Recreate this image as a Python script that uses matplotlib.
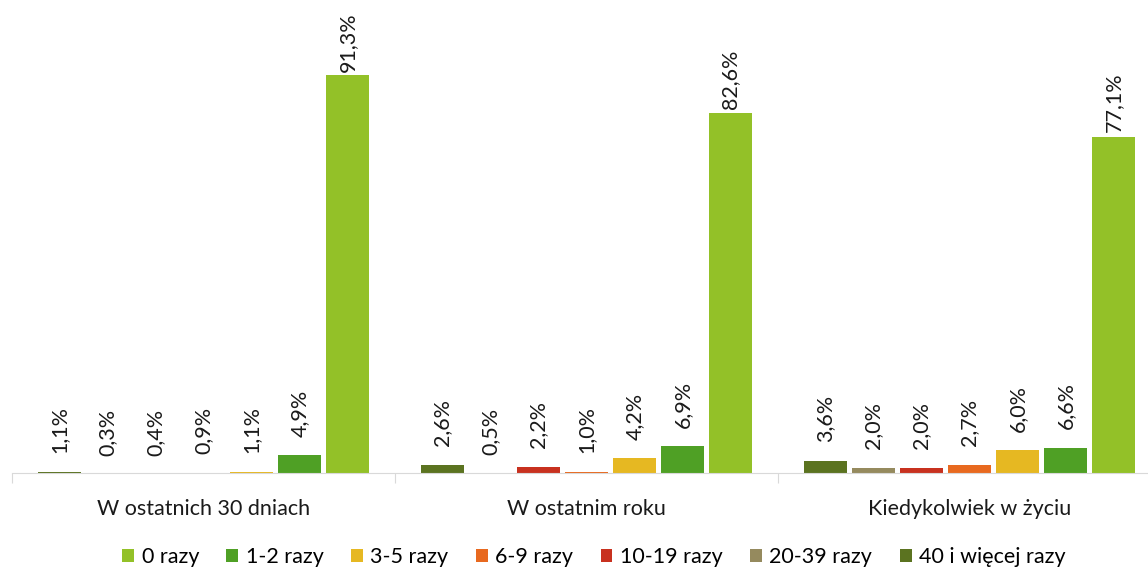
import numpy as np
import matplotlib.pyplot as plt

plt.rcParams['font.family'] = ['Lato', 'DejaVu Sans']

groups = ['W ostatnich 30 dniach', 'W ostatnim roku', 'Kiedykolwiek w życiu']
series = ['40 i więcej razy', '20-39 razy', '10-19 razy', '6-9 razy', '3-5 razy', '1-2 razy', '0 razy']
colors = ['#5B7320', '#958A5E', '#C8311F', '#E8691F', '#E6B822', '#4FA025', '#93C128']

v40 = [1.1, 2.6, 3.6]
v20 = [0.3, 0.5, 2.0]
v10 = [0.4, 2.2, 2.0]
v6 = [0.9, 1.0, 2.7]
v3 = [1.1, 4.2, 6.0]
v1 = [4.9, 6.9, 6.6]
v0 = [91.3, 82.6, 77.1]
values = [v40, v20, v10, v6, v3, v1, v0]

fig = plt.figure(figsize=(11.48, 5.70), dpi=100)
ax = fig.add_axes([12/1148, 97/570, 1149/1148, 473/570])
# labels sit on their own scale, like in the source chart
lab = ax.twinx()
lab.set_ylim(-3.72, 108.36)
lab.axis('off')

pitch = 48/383
width = 43/383
x = np.arange(len(groups))
for i, (name, vals, c) in enumerate(zip(series, values, colors)):
    pos = x + (i - 3) * pitch
    ax.bar(pos, vals, width=width, color=c, label=name, zorder=2)
    for p, v in zip(pos, vals):
        lab.text(p, v, f'{v:.1f}%'.replace('.', ','), rotation=90,
                 ha='center', va='bottom', fontsize=15.5, color='#1a1a1a')

ax.set_xlim(-0.5, 2.5)
ax.set_ylim(0.84, 108.3)
for s in ['top', 'right', 'left']:
    ax.spines[s].set_visible(False)
ax.spines['bottom'].set_color('#D9D9D9')
ax.spines['bottom'].set_zorder(3)
ax.set_yticks([])
ax.set_xticks([-0.5, 0.5, 1.5, 2.5])
ax.set_xticklabels([])
ax.set_xticks(x, minor=True)
ax.set_xticklabels(groups, minor=True, fontsize=15.5, color='#1a1a1a')
ax.tick_params(axis='x', which='major', length=7, color='#D9D9D9')
ax.tick_params(axis='x', which='minor', length=0, pad=19)

handles, labels = ax.get_legend_handles_labels()
fig.legend(handles[::-1], labels[::-1], loc='center', bbox_to_anchor=(0.5174, 13/570),
           ncol=7, frameon=False, fontsize=15.5, handlelength=0.55, handleheight=0.55,
           handletextpad=0.35, columnspacing=1.27)

fig.savefig('out.png', dpi=100)
